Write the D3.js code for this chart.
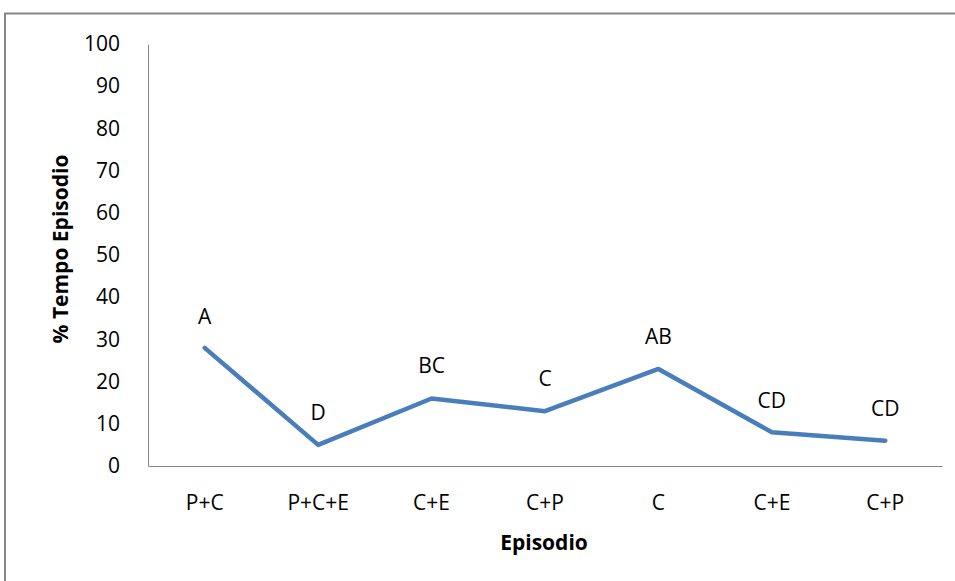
<!DOCTYPE html>
<html>
<head>
<meta charset="utf-8">
<script src="https://cdn.jsdelivr.net/npm/d3@7"></script>
<style>
  html, body { margin: 0; padding: 0; background: #fff; }
  svg { display: block; }
  text { font-family: "Open Sans", "Noto Sans", sans-serif; fill: #000; }
</style>
</head>
<body>
<svg id="chart" width="955" height="581"></svg>
<script>
// Episode categories along the x axis
const episodes = ["P+C", "P+C+E", "C+E", "C+P", "C", "C+E", "C+P"];
// Mean % of episode time
const tempo = [28, 5, 16, 13, 23, 8, 6];
// Significance group letters and the level (in % units) where each sits
const groups = ["A", "D", "BC", "C", "AB", "CD", "CD"];
const groupLevel = [35.5, 12.6, 23.7, 20.6, 30.6, 15.6, 13.7];
// Y axis ticks
const yTicks = [0, 10, 20, 30, 40, 50, 60, 70, 80, 90, 100];

const svg = d3.select("#chart");
const W = 955, H = 581;
const plot = { left: 148, right: 942, top: 44, bottom: 466 };
const FS = "21px";

// Outer frame (top and left edges)
svg.append("path")
  .attr("d", `M5,${H} L5,13.5 L${W},13.5`)
  .attr("fill", "none")
  .attr("stroke", "#878787")
  .attr("stroke-width", 2);

const x = d3.scaleBand()
  .domain(d3.range(episodes.length))
  .range([plot.left, plot.right])
  .paddingInner(0).paddingOuter(0);

const y = d3.scaleLinear()
  .domain([0, 100])
  .range([plot.bottom, plot.top]);

// Y axis
const yAxis = svg.append("g")
  .attr("transform", `translate(${plot.left},0)`)
  .call(d3.axisLeft(y).tickValues(yTicks).tickSize(0).tickPadding(28));
yAxis.select(".domain").attr("stroke", "#868686").attr("stroke-width", 1);
yAxis.selectAll("text")
  .style("font-size", FS)
  .style("font-family", "'Open Sans', sans-serif")
  .attr("fill", "#000");

// X axis
const xAxis = svg.append("g")
  .attr("transform", `translate(0,${plot.bottom})`)
  .call(d3.axisBottom(x).tickFormat(i => episodes[i]).tickSize(0).tickPadding(29));
xAxis.select(".domain").attr("stroke", "#868686").attr("stroke-width", 1);
xAxis.selectAll("text")
  .style("font-size", FS)
  .style("font-family", "'Open Sans', sans-serif")
  .attr("fill", "#000");

const cx = i => x(i) + x.bandwidth() / 2;

// Data line
const line = d3.line()
  .x((d, i) => cx(i))
  .y(d => y(d));

svg.append("path")
  .datum(tempo)
  .attr("d", line)
  .attr("fill", "none")
  .attr("stroke", "#4a7ebb")
  .attr("stroke-width", 4.5)
  .attr("stroke-linejoin", "round")
  .attr("stroke-linecap", "round");

// Group letters
svg.append("g").selectAll("text")
  .data(groups)
  .join("text")
  .attr("x", (d, i) => cx(i))
  .attr("y", (d, i) => y(groupLevel[i]))
  .attr("dy", "0.35em")
  .attr("text-anchor", "middle")
  .style("font-size", FS)
  .text(d => d);

// Axis titles
svg.append("text")
  .attr("x", 544)
  .attr("y", 543)
  .attr("dy", "0.35em")
  .attr("text-anchor", "middle")
  .style("font-size", FS)
  .style("font-weight", "bold")
  .text("Episodio");

svg.append("text")
  .attr("transform", `translate(61,${(153 + 345) / 2}) rotate(-90)`)
  .attr("dy", "0.35em")
  .attr("text-anchor", "middle")
  .style("font-size", FS)
  .style("font-weight", "bold")
  .text("% Tempo Episodio");
</script>
</body>
</html>
